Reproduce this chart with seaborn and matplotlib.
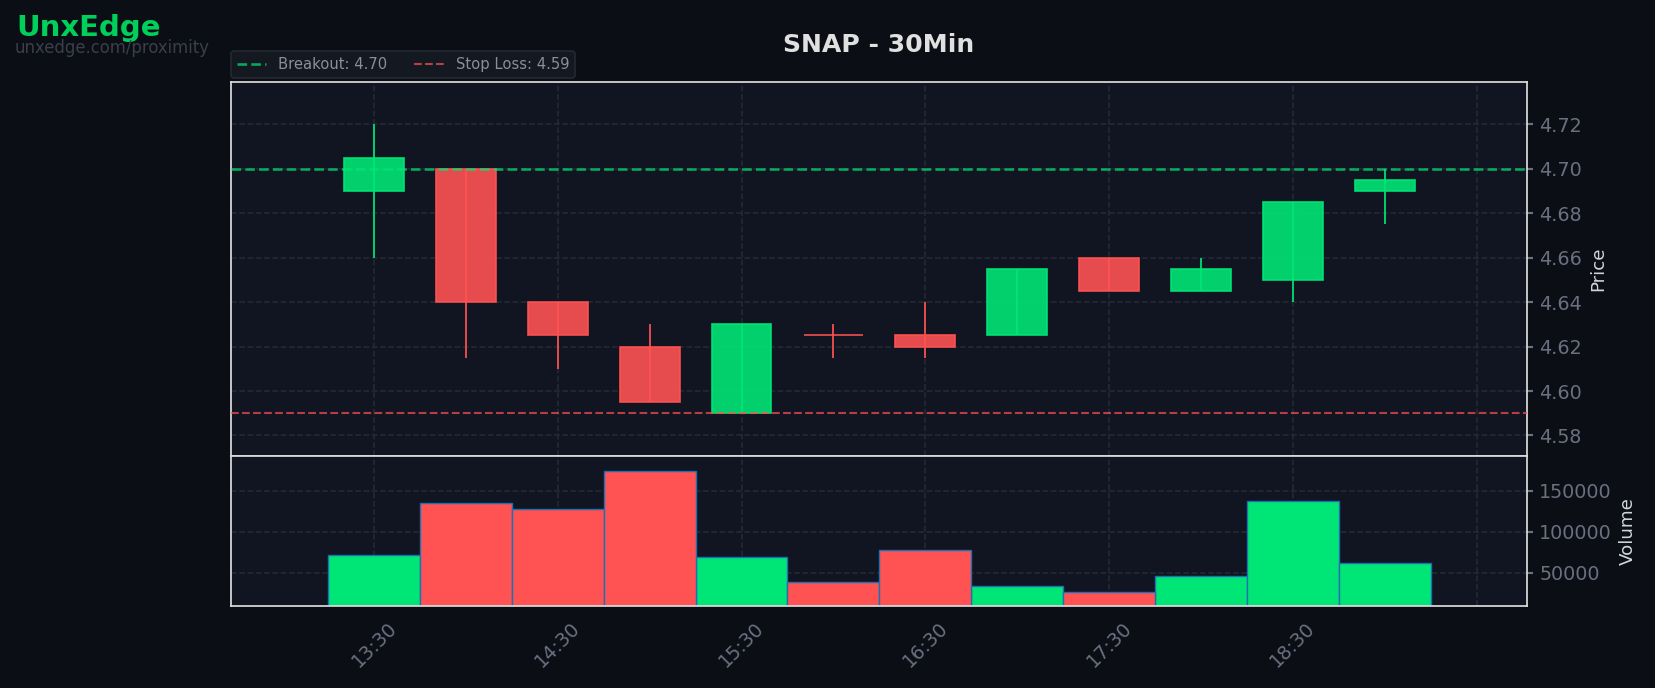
import numpy as np
import pandas as pd
import matplotlib
matplotlib.use("Agg")
import matplotlib.pyplot as plt
import seaborn as sns

# 30 minute SNAP bars
times = ['13:30', '14:00', '14:30', '15:00', '15:30', '16:00',
         '16:30', '17:00', '17:30', '18:00', '18:30', '19:00']
opens = [4.690, 4.700, 4.640, 4.620, 4.590, 4.625, 4.625, 4.625, 4.660, 4.645, 4.650, 4.690]
highs = [4.720, 4.700, 4.640, 4.630, 4.630, 4.630, 4.640, 4.655, 4.660, 4.660, 4.685, 4.700]
lows = [4.660, 4.615, 4.610, 4.595, 4.590, 4.615, 4.615, 4.625, 4.645, 4.645, 4.640, 4.675]
closes = [4.705, 4.640, 4.625, 4.595, 4.630, 4.625, 4.620, 4.655, 4.645, 4.655, 4.685, 4.695]
volumes = [71200, 134900, 127200, 174100, 69600, 38200, 77400, 33300, 26700, 45500, 137000, 61400]

breakout = 4.70
stop_loss = 4.59

price_ticks = [4.58, 4.60, 4.62, 4.64, 4.66, 4.68, 4.70, 4.72]
volume_ticks = [50000, 100000, 150000]

UP = '#00e676'
DOWN = '#ff5252'
FIG_BG = '#0b0e15'
AX_BG = '#111521'
GRID = '#252a35'
TICK = '#6b7080'
LABEL = '#d0d4dc'
SPINE = '#dcdcdc'

df = pd.DataFrame({'time': times, 'open': opens, 'high': highs,
                   'low': lows, 'close': closes, 'volume': volumes})
df['pos'] = np.arange(len(df))
df['direction'] = np.where(df['close'] > df['open'], 'up', 'down')
df['color'] = df['direction'].map({'up': UP, 'down': DOWN})

sns.set_theme(style="dark", rc={'figure.facecolor': FIG_BG, 'axes.facecolor': AX_BG,
                                'savefig.facecolor': FIG_BG})
plt.rcParams['font.family'] = ['DejaVu Sans']

fig = plt.figure(figsize=(13.24, 5.504), dpi=125)
gs = fig.add_gridspec(2, 1, height_ratios=[2.5, 1], hspace=0,
                      left=0.1394, right=0.9227, top=0.8813, bottom=0.1188)
ax = fig.add_subplot(gs[0])
axv = fig.add_subplot(gs[1], sharex=ax)

# candles
body_w = 0.65
ax.vlines(df['pos'], df['low'], df['high'], colors=df['color'], linewidth=1.0, zorder=2)
body_low = df[['open', 'close']].min(axis=1)
body_h = (df['close'] - df['open']).abs().clip(lower=0.0003)
ax.bar(df['pos'], body_h, bottom=body_low, width=body_w, color=df['color'],
       alpha=0.9, edgecolor=df['color'], linewidth=1.0, zorder=3)

ax.axhline(breakout, color=UP, linestyle='--', linewidth=1.5, alpha=0.7,
           label=f'Breakout: {breakout:.2f}', zorder=4)
ax.axhline(stop_loss, color=DOWN, linestyle='--', linewidth=1.2, alpha=0.7,
           label=f'Stop Loss: {stop_loss:.2f}', zorder=4)

# volume
sns.barplot(data=df, x='pos', y='volume', hue='direction', palette={'up': UP, 'down': DOWN},
            native_scale=True, dodge=False, width=1.0, errorbar=None, legend=False,
            edgecolor='#1f6fb4', linewidth=0.8, saturation=1, ax=axv)

n = len(df)
ax.set_xlim(-1.56, n - 1 + 1.55)
ax.set_ylim(4.5706, 4.7392)
axv.set_ylim(8800, 192000)

tick_pos = list(range(0, n + 1, 2))
axv.set_xticks(tick_pos)
axv.set_xticklabels([times[i] if i < n else '' for i in tick_pos],
                    rotation=45, ha='center', fontsize=11, color=TICK)

ax.set_yticks(price_ticks)
ax.set_yticklabels([f'{v:.2f}' for v in price_ticks])
axv.set_yticks(volume_ticks)
axv.set_yticklabels([str(v) for v in volume_ticks])

for a in (ax, axv):
    a.set_facecolor(AX_BG)
    a.yaxis.tick_right()
    a.yaxis.set_label_position('right')
    a.tick_params(axis='y', colors=TICK, labelsize=11, length=3.5, left=False, right=True)
    a.tick_params(axis='x', colors=TICK, length=3.5)
    a.grid(True, color=GRID, linestyle='--', linewidth=0.9)
    a.set_axisbelow(True)
    for s in a.spines.values():
        s.set_visible(True)
        s.set_color(SPINE)
        s.set_linewidth(1.0)

ax.tick_params(axis='x', bottom=False, labelbottom=False)
ax.set_xlabel('')
axv.set_xlabel('')
ax.set_ylabel('Price', color=LABEL, fontsize=10.5)
axv.set_ylabel('Volume', color=LABEL, fontsize=10.5)

leg = ax.legend(loc='lower left', bbox_to_anchor=(0, 1.009), borderaxespad=0, ncol=2,
                fontsize=8.5, frameon=True, facecolor='#141821', edgecolor='#232833',
                labelcolor='#8a8f9a', columnspacing=1.85)
leg.get_frame().set_alpha(1)

fig.text(0.5310, 0.9249, 'SNAP - 30Min', ha='center', va='baseline',
         fontsize=14.5, fontweight='bold', color='#e0e0e0')
fig.text(0.0100, 0.9477, 'UnxEdge', ha='left', va='baseline',
         fontsize=16.8, fontweight='bold', color='#00d05a')
fig.text(0.0090, 0.9225, 'unxedge.com/proximity', ha='left', va='baseline',
         fontsize=9.5, color='#3a3f4b')

fig.savefig('out.png', dpi=125, facecolor=FIG_BG)
